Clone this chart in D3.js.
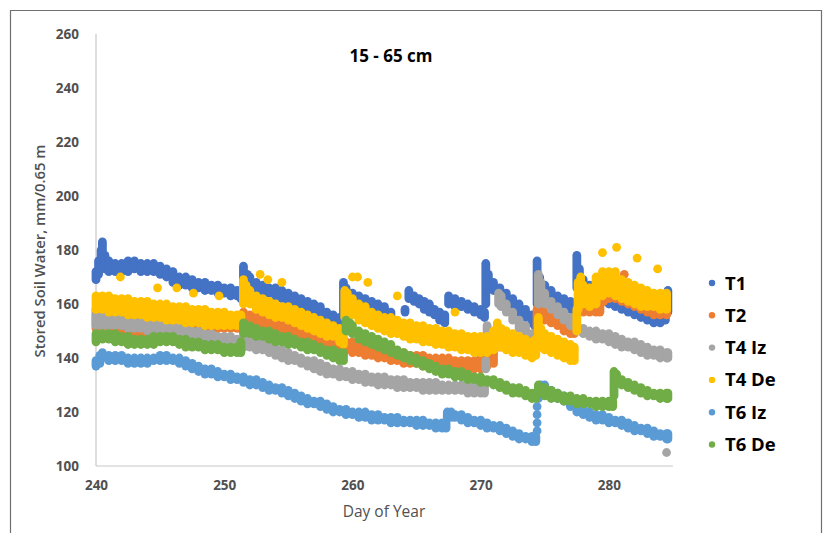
<!DOCTYPE html>
<html><head><meta charset="utf-8">
<script src="https://cdn.jsdelivr.net/npm/d3@7"></script>
<style>
html,body{margin:0;padding:0;background:#fff;}
svg{display:block;font-family:"Open Sans",sans-serif;}
</style></head>
<body><svg id="c" width="831" height="533"></svg>
<script>
// ---- data: [day, low, high] reading ranges at each time ----
const seriesNames = ["T1","T2","T4 Iz","T4 De","T6 Iz","T6 De"];
const xTicks = [240,250,260,270,280];
const yTicks = [100,120,140,160,180,200,220,240,260];

const t1 = [[240,169,172],[240.2,171,176],[240.4,174,180],[240.5,176,183],[240.7,173,178],[241,172,176],[241.5,172,175],[242,172,175],[242.5,172,176],[243,173,176],[243.5,172,175],[244,172,175],[244.5,172,175],[245,171,174],[245.5,170,173],[246,168,172],[246.5,167,170],[247,167,170],[247.5,166,169],[248,166,168],[248.5,165,168],[249,165,167],[249.5,164,167],[250,164,166],[250.5,163,166],[251,163,165],[251.3,162,165],
[251.5,165,174],[251.8,167,171],[252,166,170],[252.5,165,168],[253,164,167],[253.5,164,166],[254,163,166],[254.5,162,165],[255,161,164],[255.5,160,163],[256,159,162],[256.5,158,161],[257,157,160],[257.5,156,159],[258,155,157],[258.5,154,156],[259,153,155],
[259.3,155,168],[259.5,162,166],[260,161,164],[260.5,160,163],[261,159,162],[261.5,158,161],[262,157,160],[262.5,156,159],[263,155,157],
[264.1,157,158],[264.4,162,165],[264.8,161,163],[265.2,160,162],[265.6,158,161],[266,157,160],[266.4,156,158],[266.8,154,157],[267.2,153,156],
[267.5,160,163],[268,159,162],[268.5,159,161],[269,158,160],[269.5,157,159],[270,156,158],[270.3,155,157],
[270.4,160,175],[270.6,166,171],[271,165,168],[271.5,163,166],[272,161,164],[272.5,159,162],[273,157,160],[273.5,155,158],[274,153,156],[274.2,152,154],
[274.4,160,176],[274.6,165,170],[275,164,167],[275.5,162,165],[276,161,163],[276.5,160,162],[277,158,161],[277.3,157,160],
[277.5,166,178],[277.7,168,173],[278,165,169],[278.5,163,167],[279,162,165],[279.5,161,164],[280,160,163],[280.5,159,162],[281,158,161],[281.5,157,160],[282,156,159],[282.5,155,158],[283,154,156],[283.5,153,156],[284,153,155],[284.4,154,157],[284.6,157,165]];

const t2 = [[240,151,158],[240.5,152,157],[241,151,156],[241.5,150,155],[242,150,155],[242.5,149,154],[243,149,154],[243.5,148,153],[244,148,153],[244.5,149,153],[245,148,153],[245.5,148,153],[246,149,153],[246.5,149,154],[247,148,154],[247.5,149,154],[248,149,154],[248.5,150,154],[249,150,154],[249.5,151,154],[250,151,154],[250.5,151,154],[251,151,154],[251.3,151,154],
[251.5,153,157],[252,153,156],[252.5,152,156],[253,152,155],[253.5,151,155],[254,150,154],[254.5,149,153],[255,149,152],[255.5,148,152],[256,147,151],[256.5,147,150],[257,146,150],[257.5,145,149],[258,145,148],[258.5,144,147],[259,144,147],[259.5,143,146],[260,142,146],[260.5,142,145],[261,141,145],[261.5,141,144],[262,140,144],[262.5,140,143],[263,139,143],[263.5,139,142],[264,138,142],[264.5,138,141],[265,138,141],[265.5,137,141],[266,137,140],[266.5,137,140],[267,136,140],[267.5,136,140],[268,136,139],[268.5,136,139],[269,136,139],[269.5,136,139],[270,136,140],[270.5,137,141],[271,138,142],
[271.5,144,148],[272,144,148],[272.5,143,147],[273,143,147],[273.5,143,146],[274,142,146],
[274.4,150,158],[274.7,156,160],[275,154,157],[275.5,153,156],[276,152,155],[276.5,150,154],[277,149,152],[277.3,149,151],
[277.6,157,162],[278,157,161],[278.5,157,160],[279,157,160],[279.3,157,160],[279.6,161,166],[280,162,166],[280.5,162,166],[281,161,165],[281.5,160,164],[282,159,163],[282.5,158,161],[283,157,160],[283.5,156,159],[284,156,159],[284.5,156,159],
[281.2,171,171]];

const t4iz = [[240,152,156],[240.5,152,156],[241,152,155],[241.5,152,155],[242,152,155],[242.5,151,155],[243,151,154],[243.5,151,154],[244,150,154],[244.5,150,153],[245,150,153],[245.5,150,153],[246,149,152],[246.5,149,152],[247,148,151],[247.5,148,150],[248,147,150],[248.5,147,149],[249,146,149],[249.5,146,148],[250,145,148],[250.5,145,148],[251,145,147],[251.5,144,147],[252,144,147],[252.5,143,146],[253,143,146],[253.5,142,145],[254,141,144],[254.5,140,143],[255,139,142],[255.5,139,141],[256,138,140],[256.5,137,139],[257,136,139],[257.5,135,138],[258,134,137],[258.5,134,136],[259,133,136],[259.5,133,135],[260,132,135],[260.5,132,134],[261,131,134],[261.5,131,133],[262,130,133],[262.5,130,133],[263,130,132],[263.5,129,132],[264,129,132],[264.5,129,131],[265,129,131],[265.5,128,131],[266,128,131],[266.5,128,131],[267,128,130],[267.5,128,130],[268,128,130],[268.5,128,130],[269,127,130],[269.5,127,130],[270,127,130],[270.3,127,130],
[270.4,136,139],[270.5,150,152],
[271.4,160,164],[271.6,159,163],[272,157,160],[272.5,154,157],[273,151,154],[273.5,149,152],[274,146,149],[274.3,145,147],
[274.5,160,171],[274.7,163,168],[275,160,164],[275.5,158,161],[276,156,159],[276.5,154,157],[277,152,155],[277.5,150,152],[278,149,151],[278.5,148,150],[279,147,150],[279.5,147,149],[280,146,149],[280.5,145,148],[281,144,147],[281.5,144,146],[282,143,146],[282.5,142,145],[283,141,144],[283.5,141,143],[284,140,143],[284.5,140,142],[284.6,140,142],
[284.5,105,105]];

const t4de = [[240,158,163],[240.5,158,163],[241,157,163],[241.5,157,162],[242,157,162],[242.5,156,162],[243,156,161],[243.5,156,161],[244,155,161],[244.5,155,160],[245,155,160],[245.5,154,160],[246,154,159],[246.5,154,159],[247,153,159],[247.5,153,158],[248,153,158],[248.5,152,158],[249,152,157],[249.5,152,157],[250,152,157],[250.5,152,156],[251,152,156],[251.3,152,156],
[251.5,160,169],[251.7,162,167],[252,160,165],[252.5,158,163],[253,157,162],[253.5,156,161],[254,155,160],[254.5,155,159],[255,154,159],[255.5,153,158],[256,152,157],[256.5,151,156],[257,150,155],[257.5,149,154],[258,148,153],[258.5,148,152],[259,146,151],[259.3,145,149],
[259.4,155,165],[259.6,158,164],[260,156,162],[260.5,154,160],[261,153,159],[261.5,152,157],[262,151,156],[262.5,150,155],[263,149,155],[263.5,149,154],[264,148,153],[264.5,147,153],[265,147,152],[265.5,146,152],[266,146,151],[266.5,145,151],[267,145,150],[267.5,144,150],[268,144,149],[268.5,143,149],[269,143,148],[269.5,142,148],[270,142,148],[270.5,142,148],[271,143,150],[271.3,145,153],[271.6,144,151],[272,143,150],[272.5,142,149],[273,142,148],[273.5,141,147],[274,140,146],[274.3,141,147],[274.5,146,155],[274.7,144,151],[275,143,149],[275.5,142,148],[276,141,147],[276.5,140,146],[277,139,145],[277.3,139,144],
[277.5,150,158],[277.6,158,168],[277.8,161,170],[278,160,167],[278.5,159,166],[279,160,170],[279.5,163,172],[280,164,172],[280.5,163,172],[281,162,169],[281.5,161,168],[282,160,167],[282.5,159,166],[283,159,165],[283.5,159,164],[284,158,164],[284.5,158,164],
[241.9,170,170],[244.8,166,166],[246.3,166,166],[247.6,164,164],[249.6,163,163],[252.8,171,171],[253.4,169,169],[254.5,168,168],[260,170,170],[260.4,170,170],[261.2,168,168],[263.5,163,163],[268,157,157],[279.5,179,179],[280.6,181,181],[282.2,177,177],[283.8,173,173]];

const t6iz = [[240,137,139],[240.3,138,141],[240.5,140,142],[241,139,141],[241.5,139,141],[242,139,141],[242.5,138,140],[243,138,140],[243.5,138,140],[244,138,140],[244.5,139,140],[245,139,141],[245.5,139,141],[246,139,140],[246.5,138,140],[247,137,139],[247.5,136,138],[248,135,137],[248.5,134,136],[249,134,136],[249.5,133,135],[250,133,134],[250.5,132,134],[251,132,133],[251.5,131,133],[252,130,132],[252.5,130,132],[253,129,131],[253.5,128,130],[254,128,129],[254.5,127,129],[255,126,128],[255.5,125,127],[256,124,126],[256.5,123,125],[257,123,124],[257.5,122,124],[258,121,123],[258.5,120,122],[259,120,121],[259.5,119,121],[260,119,120],[260.5,118,120],[261,118,120],[261.5,117,119],[262,117,119],[262.5,117,118],[263,116,118],[263.5,116,118],[264,116,117],[264.5,116,117],[265,115,117],[265.5,115,117],[266,115,116],[266.5,114,116],[267,114,116],[267.3,114,116],
[267.4,118,120],[267.7,118,120],[268,118,119],[268.5,117,119],[269,116,118],[269.5,116,117],[270,115,117],[270.5,114,116],[271,114,115],[271.5,113,115],[272,112,114],[272.5,111,113],[273,110,112],[273.5,110,111],[274,109,111],[274.3,109,111],
[274.4,113,113],[274.4,116,116],[274.4,119,119],[274.4,122,122],[274.5,125,129],[274.7,128,130],[275,127,130],[275.5,126,128],[276,125,127],[276.5,124,126],[277,122,124],[277.5,120,122],[278,119,121],[278.5,118,120],[279,117,119],[279.5,117,119],[280,116,118],[280.5,116,117],[281,115,117],[281.5,114,116],[282,113,115],[282.5,113,114],[283,112,114],[283.5,111,113],[284,111,112],[284.5,110,112],[284.6,110,112]];

const t6de = [[240,146,149],[240.5,147,149],[241,147,149],[241.5,146,149],[242,146,148],[242.5,145,148],[243,145,147],[243.5,145,147],[244,145,147],[244.5,145,148],[245,146,148],[245.5,146,148],[246,146,148],[246.5,145,147],[247,144,147],[247.5,144,146],[248,144,146],[248.5,143,145],[249,143,145],[249.5,143,145],[250,142,144],[250.5,142,144],[251,142,144],[251.3,142,146],
[251.5,149,153],[252,149,152],[252.5,148,151],[253,148,150],[253.5,147,150],[254,146,149],[254.5,146,148],[255,145,148],[255.5,145,147],[256,144,146],[256.5,143,146],[257,143,145],[257.5,142,144],[258,141,143],[258.5,140,143],[259,139,142],[259.3,139,142],
[259.5,150,154],[259.8,150,153],[260,149,152],[260.5,147,150],[261,146,149],[261.5,145,148],[262,144,147],[262.5,143,146],[263,142,145],[263.5,141,143],[264,140,142],[264.5,139,141],[265,138,140],[265.5,137,139],[266,136,138],[266.5,135,137],[267,134,136],[267.5,134,136],[268,133,135],[268.5,133,135],[269,132,134],[269.5,132,133],[270,131,133],[270.5,131,132],[271,130,132],[271.5,129,131],[272,128,130],[272.5,127,129],[273,127,129],[273.5,126,128],[274,125,127],[274.3,125,127],
[274.5,127,130],[274.8,127,129],[275,126,129],[275.5,125,128],[276,125,127],[276.5,124,126],[277,124,126],[277.5,123,125],[278,123,125],[278.5,123,124],[279,122,124],[279.5,122,124],[280,122,124],[280.3,122,124],
[280.4,126,135],[280.6,131,134],[281,130,132],[281.5,129,131],[282,128,130],[282.5,127,129],[283,126,128],[283.5,126,127],[284,125,127],[284.5,125,127],[284.6,125,127]];

const seriesData = [t1, t2, t4iz, t4de, t6iz, t6de];
const colors = ["#4472C4","#ED7D31","#A5A5A5","#FFC000","#5B9BD5","#70AD47"];

// ---- drawing ----
const svg = d3.select("#c");
svg.append("rect").attr("x",0).attr("y",0).attr("width",831).attr("height",533).attr("fill","#fff");
svg.append("path").attr("d","M10.5,540 V10.5 H821.5 V540").attr("fill","none").attr("stroke","#707070").attr("stroke-width",1.2);

const x = d3.scaleLinear().domain([240,285]).range([96,673]);
const y = d3.scaleLinear().domain([100,260]).range([466,34]);

// axis lines
svg.append("line").attr("x1",96).attr("x2",96).attr("y1",y(260)).attr("y2",y(100)).attr("stroke","#c8c8c8").attr("stroke-width",1.2);
svg.append("line").attr("x1",96).attr("x2",673).attr("y1",y(100)).attr("y2",y(100)).attr("stroke","#c8c8c8").attr("stroke-width",1.2);

const yAx = svg.append("g").attr("transform","translate(96,0)")
  .call(d3.axisLeft(y).tickValues(yTicks).tickSize(0).tickPadding(17).tickFormat(d3.format("d")));
yAx.select(".domain").remove();
yAx.selectAll("text").attr("fill","#505050").style("font-size","13.5px").style("font-weight","700").style("font-family","'Open Sans',sans-serif");

const xAx = svg.append("g").attr("transform",`translate(0,${y(100)})`)
  .call(d3.axisBottom(x).tickValues(xTicks).tickSize(0).tickPadding(14).tickFormat(d3.format("d")));
xAx.select(".domain").remove();
xAx.selectAll("text").attr("fill","#505050").style("font-size","13.5px").style("font-weight","700").style("font-family","'Open Sans',sans-serif");

// marks
const R = 4.4;
seriesData.forEach((data,i)=>{
  const g = svg.append("g").attr("fill",colors[i]).attr("stroke",colors[i]);
  data.forEach(d=>{
    if (d[1] === d[2]) {
      g.append("circle").attr("cx",x(d[0])).attr("cy",y(d[1])).attr("r",R).attr("stroke","none");
    } else {
      g.append("line").attr("x1",x(d[0])).attr("x2",x(d[0])).attr("y1",y(d[1])).attr("y2",y(d[2]))
        .attr("stroke-width",2*R).attr("stroke-linecap","round");
    }
  });
});

// title
svg.append("text").attr("x",391).attr("y",62).attr("text-anchor","middle")
  .style("font-size","17px").style("font-weight","700").attr("fill","#000").text("15 - 65 cm");

// axis titles
svg.append("text").attr("x",384).attr("y",517).attr("text-anchor","middle")
  .style("font-size","15.5px").attr("fill","#505050").text("Day of Year");
svg.append("text").attr("transform","translate(45,251) rotate(-90)").attr("text-anchor","middle")
  .style("font-size","14.8px").style("font-weight","600").attr("fill","#505050").text("Stored Soil Water, mm/0.65 m");

// legend
const lg = svg.append("g");
seriesNames.forEach((n,i)=>{
  const cy = 283 + i*32.3;
  lg.append("circle").attr("cx",712).attr("cy",cy).attr("r",3.2).attr("fill",colors[i]);
  lg.append("text").attr("x",725).attr("y",cy+6.5).style("font-size","18.5px").style("font-weight","700").attr("fill","#000").text(n);
});
</script>
</body></html>
